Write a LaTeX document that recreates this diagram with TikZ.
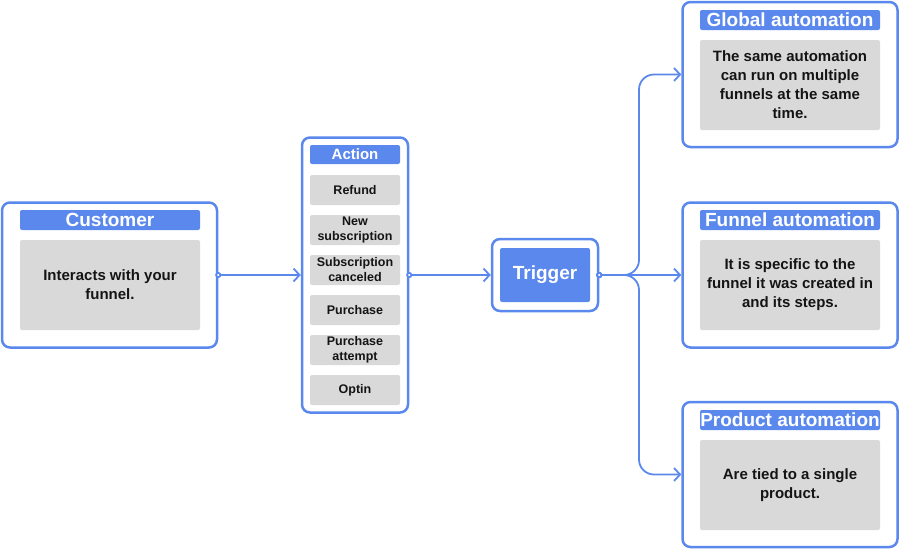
\documentclass[tikz,border=0pt]{standalone}
\usepackage{fontspec}
\setmainfont{Liberation Sans}
\usetikzlibrary{arrows.meta}

\definecolor{flowblue}{HTML}{5A88EC}
\definecolor{bodygray}{HTML}{D9D9D9}
\definecolor{ink}{HTML}{141414}

\tikzset{
    card/.style={draw=flowblue, line width=2.5pt, rounded corners=8pt, inner sep=0pt, fill=white},
    titlebar/.style={fill=flowblue, rounded corners=2pt, text=white, inner sep=0pt,
        font=\bfseries\fontsize{19}{21}\selectfont, minimum width=180pt, minimum height=20pt},
    bodybox/.style={fill=bodygray, rounded corners=2pt, text=ink, inner sep=0pt, align=center,
        font=\bfseries\fontsize{15}{19}\selectfont, minimum width=180pt, minimum height=90pt},
    itembox/.style={fill=bodygray, rounded corners=2pt, text=ink, inner sep=0pt, align=center,
        font=\bfseries\fontsize{12.5}{15}\selectfont, minimum width=90pt, minimum height=30pt},
    flow/.style={draw=flowblue, line width=1.8pt, shorten <=-3pt,
        {Circle[length=6pt, fill=white]}-{Straight Barb[length=6pt, width=13pt]}},
}

\begin{document}
\begin{tikzpicture}[x=1pt, y=-1pt]
        \useasboundingbox (0,0) rectangle (900,550);

        % Customer
        \node[card, minimum width=215pt, minimum height=145pt] (cust) at (109.5,275) {};
        \node[titlebar] (custtitle) at (110,220) {Customer};
        \node[bodybox] (custbody) at (110,285) {Interacts with your\\funnel.};

        % Action list
        \node[card, minimum width=106pt, minimum height=275pt] (act) at (355,275) {};
        \node[titlebar, minimum width=90pt, minimum height=19pt,
            font=\bfseries\fontsize{15}{17}\selectfont] (acttitle) at (355,154.5) {Action};
        \foreach \i/\txt in {1/Refund, 2/New\\subscription, 3/Subscription\\canceled,
                             4/Purchase, 5/Purchase\\attempt, 6/Optin} {
            \node[itembox] (act\i) at (355,150+40*\i) {\txt};
        }

        % Trigger
        \node[card, minimum width=106pt, minimum height=72pt] (trig) at (545,275) {};
        \node[titlebar, minimum width=90pt, minimum height=54pt,
            font=\bfseries\fontsize{19}{21}\selectfont] (trigin) at (545,275) {\raisebox{-2pt}{Trigger}};

        % Automation types
        \node[card, minimum width=215pt, minimum height=145pt] (glob) at (790,74.5) {};
        \node[titlebar] (globtitle) at (790,20) {Global automation};
        \node[bodybox] (globbody) at (790,85) {The same automation\\can run on multiple\\funnels at the same\\time.};

        \node[card, minimum width=215pt, minimum height=145pt] (funn) at (790,275) {};
        \node[titlebar] (funntitle) at (790,220) {Funnel automation};
        \node[bodybox] (funnbody) at (790,285) {It is specific to the\\funnel it was created in\\and its steps.};

        \node[card, minimum width=215pt, minimum height=145pt] (prod) at (790,474.5) {};
        \node[titlebar] (prodtitle) at (790,420) {Product automation};
        \node[bodybox] (prodbody) at (790,485) {Are tied to a single\\product.};

        % Connectors
        \coordinate (split) at (639,275);
        \draw[flow] (cust.east) -- (act.west);
        \draw[flow] (act.east) -- (trig.west);
        \draw[flow] (trig.east) -- (funn.west);
        \draw[flow, rounded corners=15pt] (trig.east) -- (split) -- (split |- glob.west) -- (glob.west);
        \draw[flow, rounded corners=15pt] (trig.east) -- (split) -- (split |- prod.west) -- (prod.west);
\end{tikzpicture}
\end{document}
